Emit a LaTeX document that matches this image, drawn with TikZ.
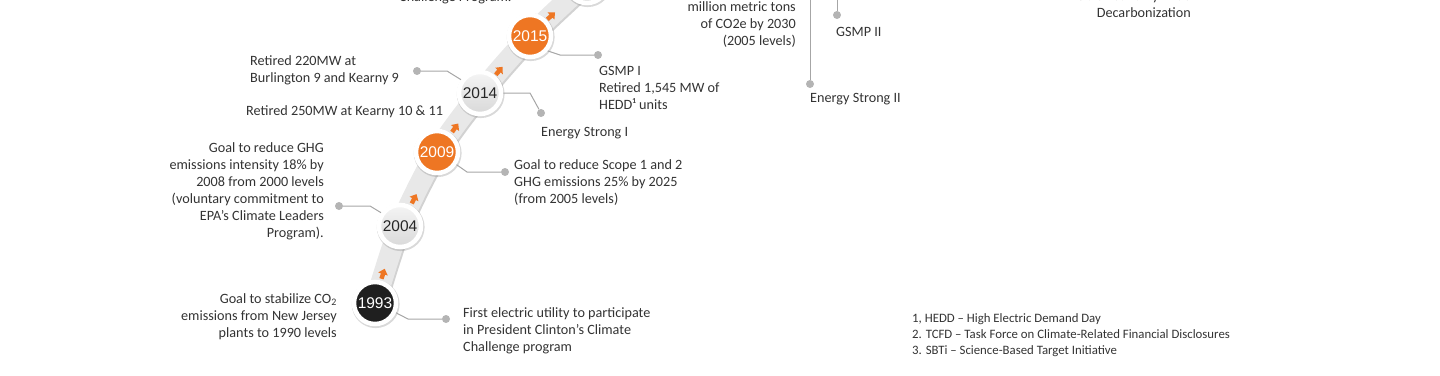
\documentclass[tikz,border=0pt]{standalone}
\usepackage{fontspec}
\setmainfont{Carlito}
\newfontfamily\yearfont{Liberation Sans}
\usepackage{xcolor}
\usetikzlibrary{shadows}
\definecolor{pseorange}{HTML}{EE7623}
\definecolor{bandgray}{HTML}{E8E8E8}
\definecolor{linegray}{HTML}{A6A6A6}
\definecolor{dotgray}{HTML}{B4B4B4}
\definecolor{txtgray}{HTML}{333333}

\begin{document}
\begin{tikzpicture}[x=1pt, y=-1pt,
  year/.style={circle, minimum size=42pt, inner sep=0pt, draw=white, line width=4.5pt, font=\yearfont\fontsize{15.5}{16}\selectfont,
    drop shadow={shadow scale=1.14, shadow xshift=0.6pt, shadow yshift=-1pt, opacity=0.3}},
  yeardark/.style={year, fill=black!88, text=white},
  yearorange/.style={year, fill=pseorange, text=white},
  yeargray/.style={year, top color=gray!8, bottom color=gray!30, text=black!85},
  uparr/.pic={\fill[pseorange] (-5,-2.2) -- (0,-2.2) -- (0,-5) -- (5.5,0) -- (0,5) -- (0,2.2) -- (-5,2.2) -- cycle;},
  dot/.style={circle, fill=dotgray, inner sep=0pt, minimum size=8pt},
  conn/.style={draw=linegray, line width=1pt},
  lbl/.style={font=\fontsize{14.2}{17}\selectfont, text=txtgray, inner sep=0pt},
  note/.style={font=\fontsize{12.8}{16}\selectfont, text=txtgray, inner sep=0pt, align=left}
]
\useasboundingbox (0,0) rectangle (1440,375);

% ribbon
\draw[gray!35, line width=21pt, xshift=1.5pt, yshift=-1.5pt] plot[smooth, tension=0.5] coordinates {(375,303) (400,226) (437,152) (480,93) (530,36) (587,-18) (645,-72)};
\draw[bandgray, line width=21pt] plot[smooth, tension=0.5] coordinates {(375,303) (400,226) (437,152) (480,93) (530,36) (587,-18) (645,-72)};

\pic[rotate=72] at (383,274) {uparr};
\pic[rotate=63] at (414,199) {uparr};
\pic[rotate=54] at (455,128) {uparr};
\pic[rotate=49] at (499,71) {uparr};
\pic[rotate=43] at (551,16) {uparr};

% years
\node[yeardark] (c1993) at (375,303) {1993};
\node[yeargray] (c2004) at (400,226) {2004};
\node[yearorange] (c2009) at (437,152) {2009};
\node[yeargray] (c2014) at (480,93) {2014};
\node[yearorange] (c2015) at (530,36) {2015};
\node[yeargray] (cnext) at (587,-18) {};

% end dots
\node[dot] (d1993) at (446,319) {};
\node[dot] (d2004) at (339,206) {};
\node[dot] (d2009) at (505,172) {};
\node[dot] (d2014a) at (417,71) {};
\node[dot] (d2014b) at (541,113) {};
\node[dot] (d2015) at (598,55) {};
\node[dot] (des2) at (810,84) {};
\node[dot] (dgsmp2) at (837,15) {};
\coordinate (tes2) at (810,-10);
\coordinate (tgsmp2) at (837,-10);

\draw[conn] (c1993.-25) -- (408,319) -- (d1993);
\draw[conn] (d2004) -- (370,206) -- (c2004.145);
\draw[conn] (c2009.-33) -- (467,172) -- (d2009);
\draw[conn] (d2014a) -- (447,71) -- (c2014.145);
\draw[conn] (c2014.0) -- (530,93) -- (d2014b);
\draw[conn] (c2015.-40) -- (560,55) -- (d2015);
\draw[conn] (tes2) -- (des2);
\draw[conn] (tgsmp2) -- (dgsmp2);

% labels
\node[lbl, anchor=west, align=left] (l1993r) at (463,331) {First electric utility to participate\\in President Clinton's Climate\\Challenge program};
\node[lbl, anchor=east, align=right] (l1993l) at (337,317) {Goal to stabilize CO\textsubscript{2}\\emissions from New Jersey\\plants to 1990 levels};
\node[lbl, anchor=east, align=right] (l2004) at (324,191) {Goal to reduce GHG\\emissions intensity 18\% by\\2008 from 2000 levels\\(voluntary commitment to\\EPA's Climate Leaders\\Program).};
\node[lbl, anchor=west, align=left] (l2009) at (514,183) {Goal to reduce Scope 1 and 2\\GHG emissions 25\% by 2025\\(from 2005 levels)};
\node[lbl, anchor=west, align=left] (l2014a) at (250,70) {Retired 220MW at\\Burlington 9 and Kearny 9};
\node[lbl, anchor=west] (l2014b) at (246,112) {Retired 250MW at Kearny 10 \& 11};
\node[lbl, anchor=west] (l2014c) at (541,133) {Energy Strong I};
\node[lbl, anchor=west, align=left] (l2015) at (599,88) {GSMP I\\Retired 1,545 MW of\\HEDD¹ units};
\node[lbl, anchor=west] (les2) at (810,99) {Energy Strong II};
\node[lbl, anchor=west] (lgsmp2) at (836,32) {GSMP II};
\node[lbl, anchor=east, align=right] (lco2e) at (796,25) {million metric tons\\of CO2e by 2030\\(2005 levels)};
\node[lbl, anchor=west] (lchal) at (399,-2) {Challenge Program.};
\node[lbl, anchor=east, align=right] (ldecarb) at (1191,4.5) {Enable Economy-wide\\Decarbonization};

% footnotes
\node[note, anchor=west] (notes) at (912,335) {1, HEDD -- High Electric Demand Day\\2. TCFD -- Task Force on Climate-Related Financial Disclosures\\3. SBTi -- Science-Based Target Initiative};
\end{tikzpicture}
\end{document}
